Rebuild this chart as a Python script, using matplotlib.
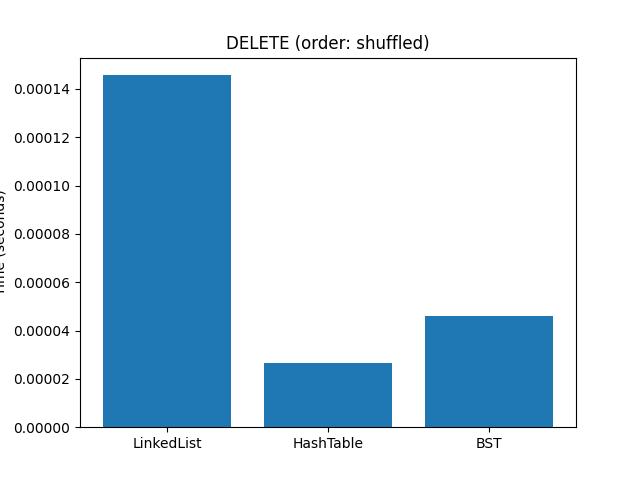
import matplotlib
matplotlib.use("Agg")
import matplotlib.pyplot as plt

structures = ["LinkedList", "HashTable", "BST"]
times = [0.0001457, 0.0000265, 0.0000460]

fig, ax = plt.subplots(figsize=(6.4, 4.8), dpi=100)
ax.bar(structures, times)
ax.set_ylabel("Time (seconds)")
ax.set_title("DELETE (order: shuffled)")
fig.savefig("out.png")
